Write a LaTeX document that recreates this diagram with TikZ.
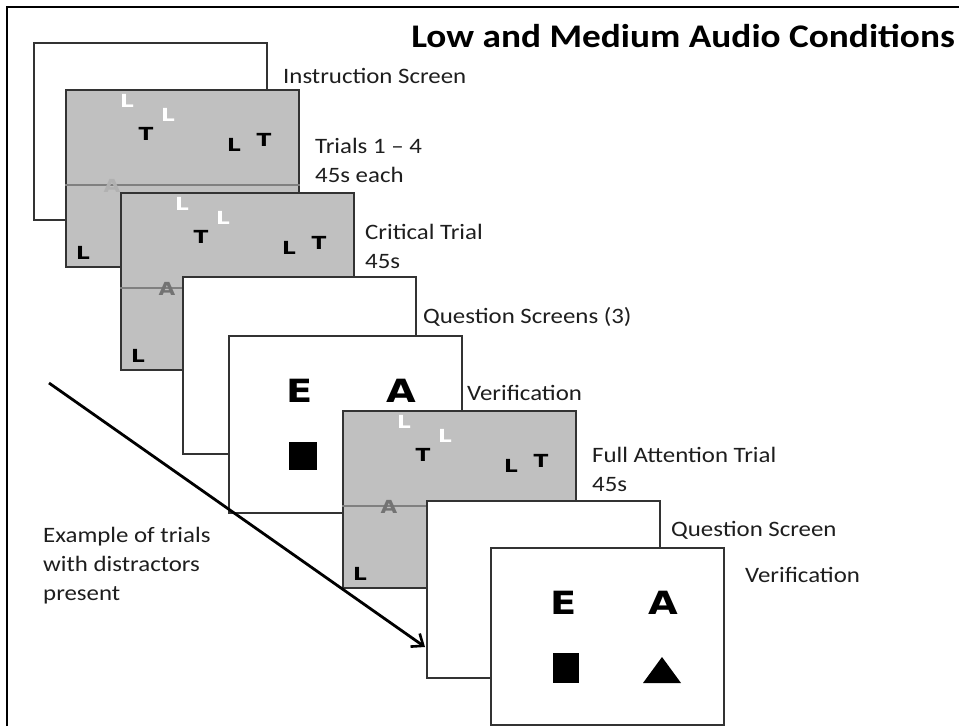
\documentclass[tikz,border=0pt]{standalone}
\usepackage{fontspec}
\setmainfont{Carlito}
\newfontfamily\labfont[FakeStretch=1.13,Ligatures=TeX]{Carlito}
\newfontfamily\glyphfont[FakeStretch=1.2]{DejaVu Sans}
\usetikzlibrary{calc,arrows.meta}
\definecolor{scrgray}{HTML}{C0C0C0}
\definecolor{scredge}{HTML}{333333}
\definecolor{midgray}{HTML}{808080}
\definecolor{labelcol}{HTML}{1E1E1E}
\tikzset{
  screen/.style={draw=scredge, line width=1.8pt, minimum width=233pt, minimum height=177pt, inner sep=0pt, anchor=north west},
  lab/.style={font=\labfont\fontsize{22}{26}\selectfont, text=labelcol, anchor=base west, inner sep=0pt},
  ttl/.style={font=\labfont\fontsize{33}{38}\selectfont\bfseries, anchor=base east, inner sep=0pt},
  glyph/.style={font=\glyphfont\bfseries\fontsize{18}{18}\selectfont, inner sep=0pt},
  bigglyph/.style={font=\glyphfont\bfseries\fontsize{32}{32}\selectfont, inner sep=0pt},
  midline/.style={draw=midgray, line width=1.6pt},
  frameline/.style={draw=black, line width=2.6pt},
  arrowline/.style={draw=black, line width=2.8pt, -{Straight Barb[length=10pt,width=16pt,line width=2.6pt]}},
}
\newcommand\grayscr[4]{% name, x, y, A-shade
  \node[screen, fill=scrgray] (#1) at (#2,#3) {};
  \draw[midline] ($(#1.north west)+(0,96)$) coordinate (#1-ml) -- ($(#1.north east)+(0,96)$) coordinate (#1-mr);
  \node[glyph, text=#4] (#1-a) at ($(#1.north west)+(47,97)$) {A};
  \node[glyph, text=white] (#1-w1) at ($(#1.north west)+(62,12)$) {L};
  \node[glyph, text=white] (#1-w2) at ($(#1.north west)+(103,26)$) {L};
  \node[glyph] (#1-t1) at ($(#1.north west)+(81,45)$) {T};
  \node[glyph] (#1-l1) at ($(#1.north west)+(169,56)$) {L};
  \node[glyph] (#1-t2) at ($(#1.north west)+(199,51)$) {T};
  \node[glyph] (#1-l2) at ($(#1.north west)+(18,164)$) {L};
}
\begin{document}
\begin{tikzpicture}[x=1pt,y=-1pt]
\useasboundingbox (0,0) rectangle (959,726);
\fill[white] (0,0) rectangle (959,726);
% frame
\draw[frameline] (7,726) -- (7,7) -- (959,7);
% title
\node[ttl] (title) at (955,47) {Low and Medium Audio Conditions};
% screens
\node[screen, fill=white] (s1) at (33,42) {};
\grayscr{s2}{65}{89}{black!8!scrgray}
\grayscr{s3}{120}{192}{black!55}
\node[screen, fill=white] (s4) at (182,276) {};
\node[screen, fill=white] (s5) at (228,335) {};
\node[bigglyph] (s5-e) at ($(s5.north west)+(72,56)$) {E};
\node[bigglyph] (s5-a) at ($(s5.north west)+(173,56)$) {A};
\fill (303-14,442) rectangle (303+14,470);
\grayscr{s6}{342}{410}{black!55}
\node[screen, fill=white] (s7) at (426,500) {};
\node[screen, fill=white] (s8) at (490,547) {};
\node[bigglyph] (s8-e) at ($(s8.north west)+(74,56)$) {E};
\node[bigglyph] (s8-a) at ($(s8.north west)+(173,56)$) {A};
\fill (553,653) rectangle (579,683);
\fill (643,683) -- (662,657) -- (681,683) -- cycle;
% labels
\node[lab] (l1) at (283,83) {Instruction Screen};
\node[lab] (l2) at (315,153) {Trials 1 – 4};
\node[lab] (l2b) at (315,182) {45s each};
\node[lab] (l3) at (365,239) {Critical Trial};
\node[lab] (l3b) at (365,268) {45s};
\node[lab] (l4) at (423,323) {Question Screens (3)};
\node[lab] (l5) at (467,400) {Verification};
\node[lab] (l6) at (592,462) {Full Attention Trial};
\node[lab] (l6b) at (592,491) {45s};
\node[lab] (l7) at (671,536) {Question Screen};
\node[lab] (l8) at (745,582) {Verification};
\node[lab] (ex1) at (43,542) {Example of trials};
\node[lab] (ex2) at (43,571) {with distractors};
\node[lab] (ex3) at (43,600) {present};
% arrow
\coordinate (arrS) at (49,383);
\coordinate (arrE) at (425,647);
\draw[arrowline] (arrS) -- (arrE);
\end{tikzpicture}
\end{document}
